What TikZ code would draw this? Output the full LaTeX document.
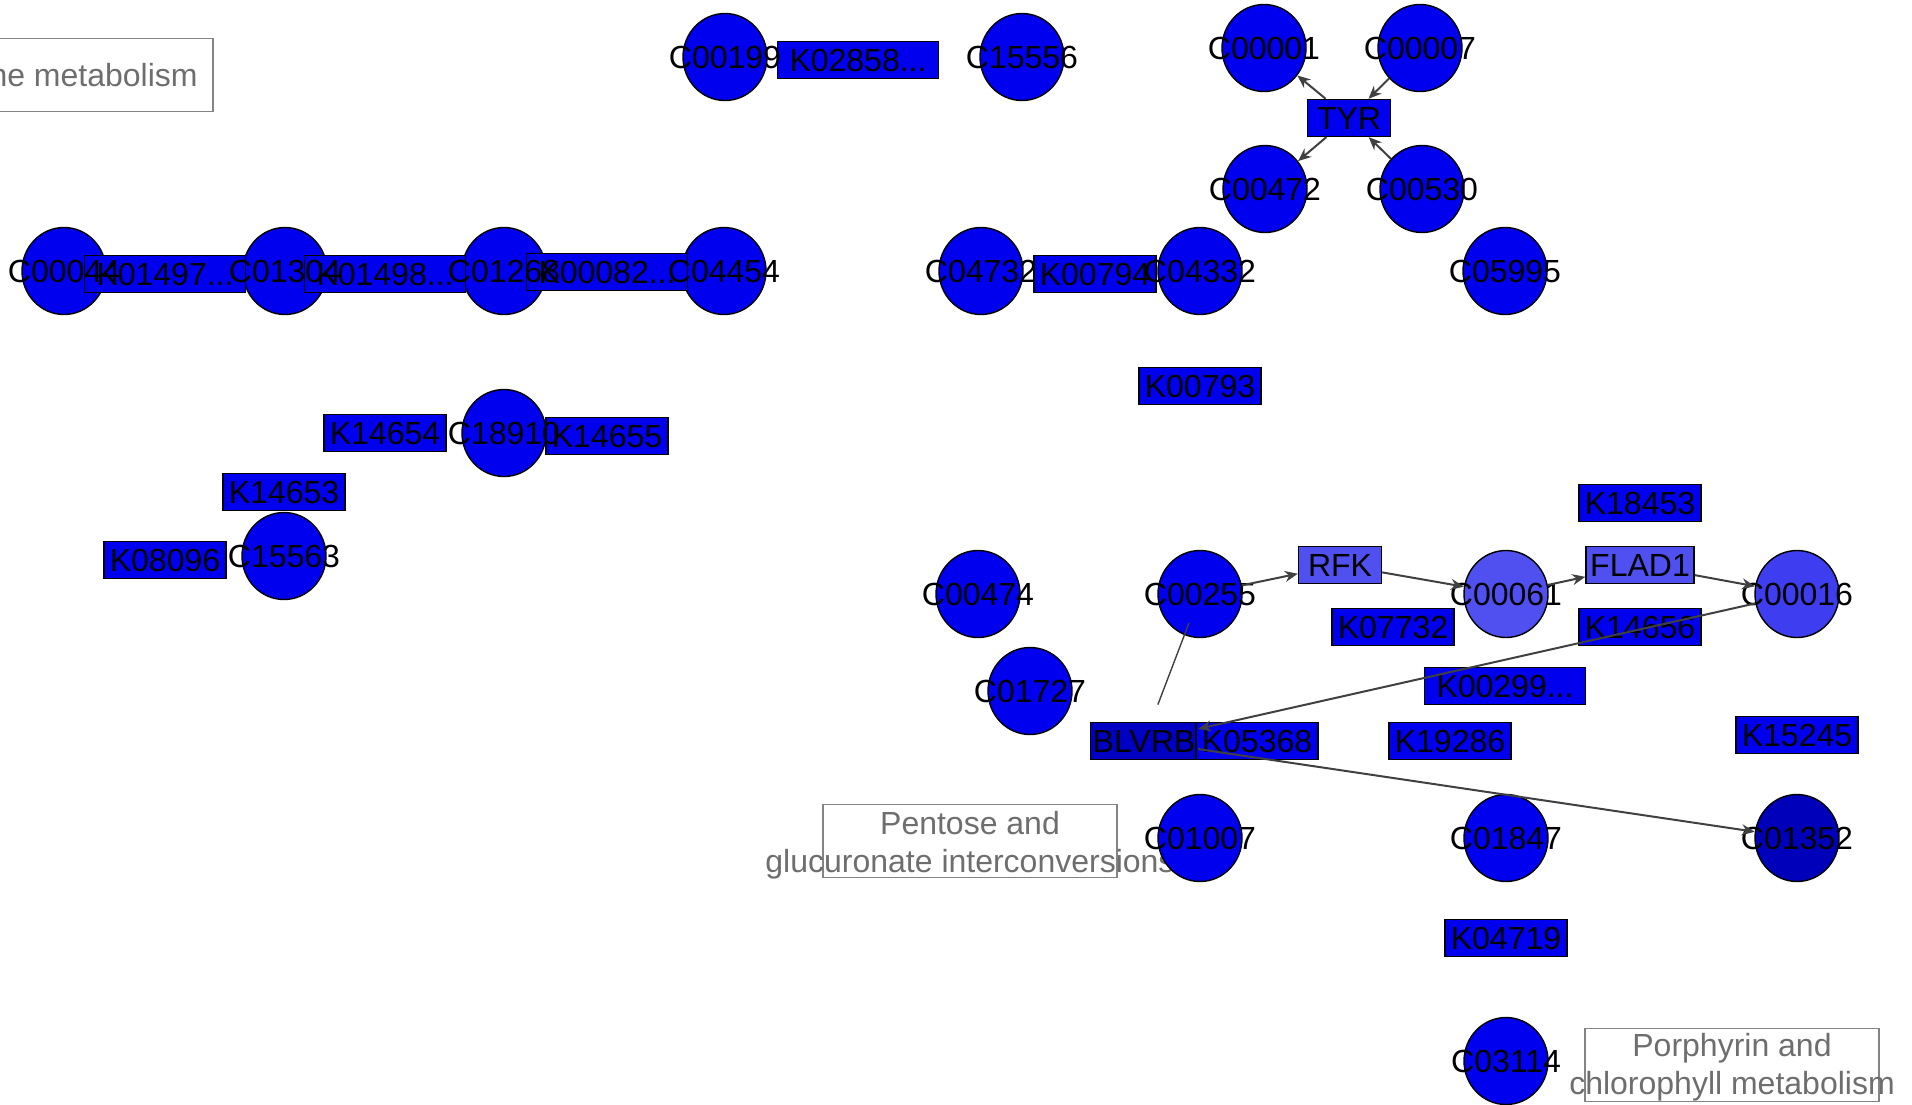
\documentclass[tikz,border=0pt]{standalone}
\usepackage{fontspec}
\setmainfont{Liberation Sans}
\usetikzlibrary{shapes.geometric,arrows.meta}

\definecolor{cblue}{RGB}{0,0,238}
\definecolor{clight}{RGB}{80,80,240}
\definecolor{cmid}{RGB}{62,62,240}
\definecolor{cdark}{RGB}{0,0,196}
\definecolor{cdeep}{RGB}{0,0,186}
\definecolor{edgegray}{RGB}{64,64,64}
\definecolor{pgray}{RGB}{110,110,110}
\newcommand{\trunc}{...}

\begin{document}
\begin{tikzpicture}[x=0.5pt, y=-0.5pt, inner sep=0pt, >={Stealth[length=6.5pt,width=5.5pt]},
  cpd/.style={ellipse, draw=black, line width=0.7pt, fill=cblue, minimum width=42pt, minimum height=43.5pt},
  gene/.style={rectangle, draw=black, line width=0.7pt, fill=cblue, minimum width=61pt, minimum height=18.5pt},
  wide/.style={minimum width=80.5pt},
  narrow/.style={minimum width=41.5pt},
  txt/.style={font=\fontsize{16}{19}\selectfont},
  pathbox/.style={rectangle, draw=pgray!85, line width=0.75pt, minimum width=147pt, minimum height=36.5pt},
  pathtxt/.style={txt, text=pgray, align=center},
  rxn/.style={->, draw=edgegray, line width=1pt},
  link/.style={draw=edgegray, line width=0.7pt}]
\useasboundingbox (0,0) rectangle (1912,1104);

% pathway labels
\node (metab) at (66,75) [pathbox] {};
\node at (198,75) [pathtxt, anchor=east] {ne metabolism};
\node (pentose) at (970,841) [pathbox] {};
\node at (970,845) [pathtxt] {Pentose and\\glucuronate interconversions};
\node (porph) at (1732,1065) [pathbox] {};
\node at (1732,1067) [pathtxt] {Porphyrin and\\chlorophyll metabolism};

% compounds
\node (c00044) at (64,271) [cpd] {};
\node (c01304) at (285,271) [cpd] {};
\node (c01268) at (504,271) [cpd] {};
\node (c04454) at (724,271) [cpd] {};
\node (c00199) at (725,57) [cpd] {};
\node (c15556) at (1022,57) [cpd] {};
\node (c00001) at (1264,48) [cpd] {};
\node (c00007) at (1420,48) [cpd] {};
\node (c00472) at (1265,189) [cpd] {};
\node (c00530) at (1422,189) [cpd] {};
\node (c04732) at (981,271) [cpd] {};
\node (c04332) at (1200,271) [cpd] {};
\node (c05995) at (1505,271) [cpd] {};
\node (c18910) at (504,433) [cpd] {};
\node (c15563) at (284,556) [cpd] {};
\node (c00474) at (978,594) [cpd] {};
\node (c00255) at (1200,594) [cpd] {};
\node (c00061) at (1506,594) [cpd, fill=clight] {};
\node (c00016) at (1797,594) [cpd, fill=cmid] {};
\node (c01727) at (1030,691) [cpd] {};
\node (c01007) at (1200,838) [cpd] {};
\node (c01847) at (1506,838) [cpd] {};
\node (c01352) at (1797,838) [cpd, fill=cdeep] {};
\node (c03114) at (1506,1061) [cpd] {};

% genes
\node (k02858) at (858,60) [gene, wide] {};
\node (k01497) at (165,274) [gene, wide] {};
\node (k01498) at (385,274) [gene, wide] {};
\node (k00082) at (607,272) [gene, wide] {};
\node (tyr) at (1349,118) [gene, narrow] {};
\node (k00794) at (1095,274) [gene] {};
\node (k00793) at (1200,386) [gene] {};
\node (k14654) at (385,433) [gene] {};
\node (k14655) at (607,436) [gene] {};
\node (k14653) at (284,492) [gene] {};
\node (k08096) at (165,560) [gene] {};
\node (k18453) at (1640,503) [gene] {};
\node (rfk) at (1340,565) [gene, narrow, fill=clight] {};
\node (flad1) at (1640,565) [gene, minimum width=54pt, fill=clight] {};
\node (k07732) at (1393,627) [gene] {};
\node (k14656) at (1640,627) [gene] {};
\node (k00299) at (1505,686) [gene, wide] {};
\node (blvrb) at (1144,741) [gene, minimum width=53.5pt, fill=cdark] {};
\node (k05368) at (1257,741) [gene] {};
\node (k19286) at (1450,741) [gene] {};
\node (k15245) at (1797,735) [gene] {};
\node (k04719) at (1506,938) [gene] {};

% names on top
\foreach \n/\t in {c00044/C00044, c01304/C01304, c01268/C01268, c04454/C04454,
  c00199/C00199, c15556/C15556, c00001/C00001, c00007/C00007, c00472/C00472,
  c00530/C00530, c04732/C04732, c04332/C04332, c05995/C05995, c18910/C18910,
  c15563/C15563, c00474/C00474, c00255/C00255, c00061/C00061, c00016/C00016,
  c01727/C01727, c01007/C01007, c01847/C01847, c01352/C01352, c03114/C03114,
  k02858/K02858\trunc, k01497/K01497\trunc, k01498/K01498\trunc, k00082/K00082\trunc,
  tyr/TYR, k00794/K00794, k00793/K00793, k14654/K14654, k14655/K14655,
  k14653/K14653, k08096/K08096, k18453/K18453, rfk/RFK, flad1/FLAD1,
  k07732/K07732, k14656/K14656, k00299/K00299\trunc, blvrb/BLVRB, k05368/K05368,
  k19286/K19286, k15245/K15245, k04719/K04719}
  \node[txt] at (\n) {\t};

% reactions
\draw[rxn] (tyr) -- (c00001);
\draw[rxn] (c00007) -- (tyr);
\draw[rxn] (tyr) -- (c00472);
\draw[rxn] (c00530) -- (tyr);
\draw[rxn] (c00255) -- (rfk);
\draw[rxn] (rfk) -- (c00061);
\draw[rxn] (c00061) -- (flad1);
\draw[rxn] (flad1) -- (c00016);
\draw[rxn] (c00016) -- (blvrb);
\draw[rxn] (blvrb) -- (c01352);
\draw[link, shorten <=15.5pt, shorten >=19.5pt] (c00255.center) -- (blvrb.center);
\end{tikzpicture}
\end{document}
